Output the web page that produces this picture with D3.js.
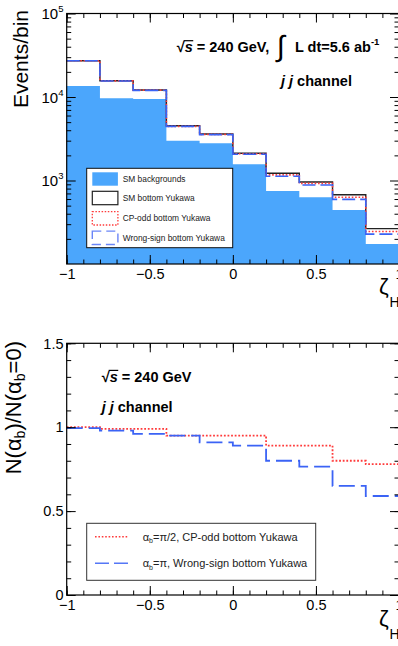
<!DOCTYPE html>
<html><head><meta charset="utf-8">
<script src="https://cdn.jsdelivr.net/npm/d3@7"></script>
<style>
body{margin:0;background:#fff;}
svg{display:block;}
text{font-family:"Liberation Sans",Arial,Helvetica,sans-serif;}
</style>
</head><body><svg id="c" width="398" height="646"></svg>
<script>
// ---------------- data ----------------
const binEdges = [-1,-0.8,-0.6,-0.4,-0.2,0,0.2,0.4,0.6,0.8,1];
const smBackgrounds   = [13550,9640,9460,3000,2790,1565,748,630,444,174];
const smYukawa        = [27200,15670,12130,4530,3610,2120,1220,960,676,265];
const cpOddYukawa     = [27200,15610,12100,4450,3570,2090,1168,924,630,245];
const wrongSignYukawa = [27130,15550,12020,4450,3540,2060,1126,882,595,228];
const ratioCPodd      = [1.0,0.99,0.99,0.95,0.95,0.95,0.89,0.89,0.80,0.78];
const ratioWrongSign  = [0.995,0.98,0.96,0.95,0.91,0.89,0.80,0.765,0.65,0.59];
const xTickValues = [-1,-0.5,0,0.5,1];
const xTickLabels = ["\u22121","\u22120.5","0","0.5","1"];
const topYTickValues = [1e3,1e4,1e5];
const topYTickExponents = ["3","4","5"];
const bottomYTickValues = [0,0.5,1,1.5];
const bottomYTickLabels = ["0","0.5","1","1.5"];

// ---------------- layout ----------------
const svg = d3.select("#c");
const L = 66.7, R = 399;
const topP = {t:13.5, b:264};
const botP = {t:343.3, b:595};
const FILL = "#4ba6fc", RED = "#ff3b3b", BLUE = "#3b63f5";

const x = d3.scaleLinear().domain([-1,1]).range([L,R]);
const yTop = d3.scaleLog().domain([100,1e5]).range([topP.b, topP.t]);
const yBot = d3.scaleLinear().domain([0,1.5]).range([botP.b, botP.t]);

function stepData(vals){ return binEdges.map((e,i)=>[e, vals[Math.min(i, vals.length-1)]]); }

// ---------------- top panel ----------------
const gT = svg.append("g");
gT.append("path")
  .attr("d", d3.area().curve(d3.curveStepAfter).x(d=>x(d[0])).y0(topP.b).y1(d=>yTop(d[1]))(stepData(smBackgrounds)))
  .attr("fill", FILL);
const lineTop = d3.line().curve(d3.curveStepAfter).x(d=>x(d[0])).y(d=>yTop(d[1]));
gT.append("path").attr("d", lineTop(stepData(smYukawa))).attr("fill","none").attr("stroke","#222").attr("stroke-width",1.4);
gT.append("path").attr("d", lineTop(stepData(cpOddYukawa))).attr("fill","none").attr("stroke",RED).attr("stroke-width",1.6).attr("stroke-dasharray","1.6,1.8");
gT.append("path").attr("d", lineTop(stepData(wrongSignYukawa))).attr("fill","none").attr("stroke",BLUE).attr("stroke-width",1.6).attr("stroke-dasharray","13,5");

// ---------------- bottom panel ----------------
const gB = svg.append("g");
const lineBot = d3.line().curve(d3.curveStepAfter).x(d=>x(d[0])).y(d=>yBot(d[1]));
gB.append("path").attr("d", lineBot(stepData(ratioCPodd))).attr("fill","none").attr("stroke",RED).attr("stroke-width",1.8).attr("stroke-dasharray","1.8,1.8");
gB.append("path").attr("d", lineBot(stepData(ratioWrongSign))).attr("fill","none").attr("stroke",BLUE).attr("stroke-width",1.8).attr("stroke-dasharray","16,6");

// ---------------- axes ----------------
function xAxes(yBottom, yTopEdge){
  const minor = d3.range(-10,11).map(k=>k/10);
  const gb = svg.append("g").attr("transform",`translate(0,${yBottom})`);
  gb.call(d3.axisBottom(x).tickValues(minor).tickSize(-4.5).tickFormat(""));
  gb.call(g=>g.select(".domain").remove());
  const gb2 = svg.append("g").attr("transform",`translate(0,${yBottom})`);
  gb2.call(d3.axisBottom(x).tickValues(xTickValues).tickSize(-9).tickPadding(4.6).tickFormat((d,i)=>xTickLabels[i]));
  gb2.call(g=>g.select(".domain").remove());
  gb2.selectAll("text").attr("font-size",14.5).attr("fill","#000").attr("font-family","Liberation Sans, Arial, sans-serif");
  const gt = svg.append("g").attr("transform",`translate(0,${yTopEdge})`);
  gt.call(d3.axisTop(x).tickValues(minor).tickSize(-4.5).tickFormat(""));
  gt.call(g=>g.select(".domain").remove());
  const gt2 = svg.append("g").attr("transform",`translate(0,${yTopEdge})`);
  gt2.call(d3.axisTop(x).tickValues(xTickValues).tickSize(-9).tickFormat(""));
  gt2.call(g=>g.select(".domain").remove());
  svg.selectAll(".tick line").attr("stroke","#000");
}
xAxes(topP.b, topP.t);
xAxes(botP.b, botP.t);

// top log y axis
const logMinor = [];
[2,3,4].forEach(d=>{ for(let k=2;k<=9;k++){ const v=k*Math.pow(10,d); if(v<1e5) logMinor.push(v);} });
[[d3.axisLeft, L, 1],[d3.axisRight, R, 1]].forEach(([ax, xpos])=>{
  const g1 = svg.append("g").attr("transform",`translate(${xpos},0)`);
  g1.call(ax(yTop).tickValues(logMinor).tickSize(-4.5).tickFormat(""));
  g1.call(g=>g.select(".domain").remove());
  const g2 = svg.append("g").attr("transform",`translate(${xpos},0)`);
  g2.call(ax(yTop).tickValues(topYTickValues).tickSize(-9).tickFormat(""));
  g2.call(g=>g.select(".domain").remove());
  svg.selectAll(".tick line").attr("stroke","#000");
});
topYTickValues.forEach((v,i)=>{
  const t = svg.append("text").attr("x",63.5).attr("y",yTop(v)+5.5).attr("text-anchor","end").attr("font-size",15);
  t.append("tspan").text("10");
  t.append("tspan").attr("font-size",9.5).attr("dy",-7).text(topYTickExponents[i]);
});

// bottom linear y axis
const linMinor = d3.range(0,16).map(k=>k/10);
[[d3.axisLeft, L],[d3.axisRight, R]].forEach(([ax, xpos])=>{
  const g1 = svg.append("g").attr("transform",`translate(${xpos},0)`);
  g1.call(ax(yBot).tickValues(linMinor).tickSize(-4.5).tickFormat(""));
  g1.call(g=>g.select(".domain").remove());
  const g2 = svg.append("g").attr("transform",`translate(${xpos},0)`);
  g2.call(ax(yBot).tickValues(bottomYTickValues).tickSize(-9).tickFormat(""));
  g2.call(g=>g.select(".domain").remove());
  svg.selectAll(".tick line").attr("stroke","#000");
});
bottomYTickValues.forEach((v,i)=>{
  svg.append("text").attr("x",63.5).attr("y",yBot(v)+5.2).attr("text-anchor","end").attr("font-size",14.5).text(bottomYTickLabels[i]);
});

// frames
svg.append("rect").attr("x",L).attr("y",topP.t).attr("width",R-L).attr("height",topP.b-topP.t).attr("fill","none").attr("stroke","#000").attr("stroke-width",1.2);
svg.append("rect").attr("x",L).attr("y",botP.t).attr("width",R-L).attr("height",botP.b-botP.t).attr("fill","none").attr("stroke","#000").attr("stroke-width",1.2);

// axis titles
svg.append("text").attr("transform","translate(28,10) rotate(-90)").attr("text-anchor","end").attr("font-size",21).text("Events/bin");
const yt = svg.append("text").attr("transform","translate(21,341) rotate(-90)").attr("text-anchor","end").attr("font-size",22);
yt.append("tspan").text("N(\u03b1");
yt.append("tspan").attr("font-size",14).attr("dy",4).text("b");
yt.append("tspan").attr("dy",-4).text(")/N(\u03b1");
yt.append("tspan").attr("font-size",14).attr("dy",4).text("b");
yt.append("tspan").attr("dy",-4).text("=0)");

function zetaTitle(yb){
  svg.append("text").attr("x",379).attr("y",yb).attr("font-size",22).attr("font-family","Liberation Serif, serif").text("\u03b6");
  svg.append("text").attr("x",389.5).attr("y",yb+13.5).attr("font-size",14).text("H");
}
zetaTitle(293.5);
zetaTitle(625.5);

// annotations
function sqrtS(xp, yb, rest){
  const t = svg.append("text").attr("x",xp).attr("y",yb).attr("font-size",14.5).attr("font-weight","bold");
  t.append("tspan").text("\u221a");
  t.append("tspan").attr("font-style","italic").text("s");
  t.append("tspan").text(rest);
  const n = t.node();
  const s0 = n.getStartPositionOfChar(1).x, s1 = n.getEndPositionOfChar(1).x;
  const r0 = n.getStartPositionOfChar(0).x, r1 = n.getEndPositionOfChar(0).x;
  svg.append("line").attr("x1",r1-1).attr("x2",s1+0.5).attr("y1",yb-11.3).attr("y2",yb-11.3).attr("stroke","#000").attr("stroke-width",1.2);
  return t;
}
sqrtS(176.7, 52, " = 240 GeV,");
svg.append("text").attr("x",277).attr("y",56).attr("font-size",29).attr("font-family","DejaVu Sans, sans-serif").text("\u222b");
const lum = svg.append("text").attr("x",295).attr("y",52).attr("font-size",14.5).attr("font-weight","bold");
lum.append("tspan").text("L dt=5.6 ab");
lum.append("tspan").attr("font-size",9.5).attr("dy",-7).text("-1");
function jj(xp, yb){
  const t = svg.append("text").attr("x",xp).attr("y",yb).attr("font-size",14.5).attr("font-weight","bold");
  t.append("tspan").attr("font-style","italic").text("j j");
  t.append("tspan").text(" channel");
}
jj(281, 86);
sqrtS(101.7, 381.7, " = 240 GeV");
jj(101.7, 411.5);

// top legend
const lg = svg.append("g");
lg.append("rect").attr("x",86.7).attr("y",168.3).attr("width",146).attr("height",79.4).attr("fill","#fff").attr("stroke","#111").attr("stroke-width",1);
const legTop = [
  {label:"SM backgrounds", type:"fill"},
  {label:"SM bottom Yukawa", type:"black"},
  {label:"CP-odd bottom Yukawa", type:"red"},
  {label:"Wrong-sign bottom Yukawa", type:"blue"}
];
const legCy = [179, 198, 218.3, 237.8];
legTop.forEach((e,i)=>{
  const cy = legCy[i];
  const r = lg.append("rect").attr("x",92.3).attr("y",cy-6.7).attr("width",25.6).attr("height",13.4);
  if(e.type==="fill") r.attr("fill",FILL);
  else if(e.type==="black") r.attr("fill","#fff").attr("stroke","#222").attr("stroke-width",1.2);
  else if(e.type==="red") r.attr("fill","#fff").attr("stroke",RED).attr("stroke-width",1.3).attr("stroke-dasharray","1.5,1.6");
  else r.attr("fill","#fff").attr("stroke","#6b86f7").attr("stroke-width",1.4).attr("stroke-dasharray","9,5");
  lg.append("text").attr("x",122.7).attr("y",cy+3).attr("font-size",8.4).attr("fill","#222").text(e.label);
});

// bottom legend
const lb = svg.append("g");
lb.append("rect").attr("x",86.7).attr("y",523.3).attr("width",229).attr("height",57).attr("fill","#fff").attr("stroke","#333").attr("stroke-width",1);
const legBot = [
  {pre:"\u03b1", sub:"b", post:"=\u03c0/2, CP-odd bottom Yukawa", color:RED, dash:"1.6,1.8", cy:536.7},
  {pre:"\u03b1", sub:"b", post:"=\u03c0, Wrong-sign bottom Yukawa", color:"#5577f6", dash:"14,5", cy:563.3}
];
legBot.forEach(e=>{
  lb.append("line").attr("x1",95).attr("x2",128.3).attr("y1",e.cy).attr("y2",e.cy).attr("stroke",e.color).attr("stroke-width",1.5).attr("stroke-dasharray",e.dash);
  const t = lb.append("text").attr("x",142.7).attr("y",e.cy+3.8).attr("font-size",11).attr("fill","#222");
  t.append("tspan").text(e.pre);
  t.append("tspan").attr("font-size",7).attr("dy",2.5).text(e.sub);
  t.append("tspan").attr("dy",-2.5).text(e.post);
});
</script>
</body></html>
